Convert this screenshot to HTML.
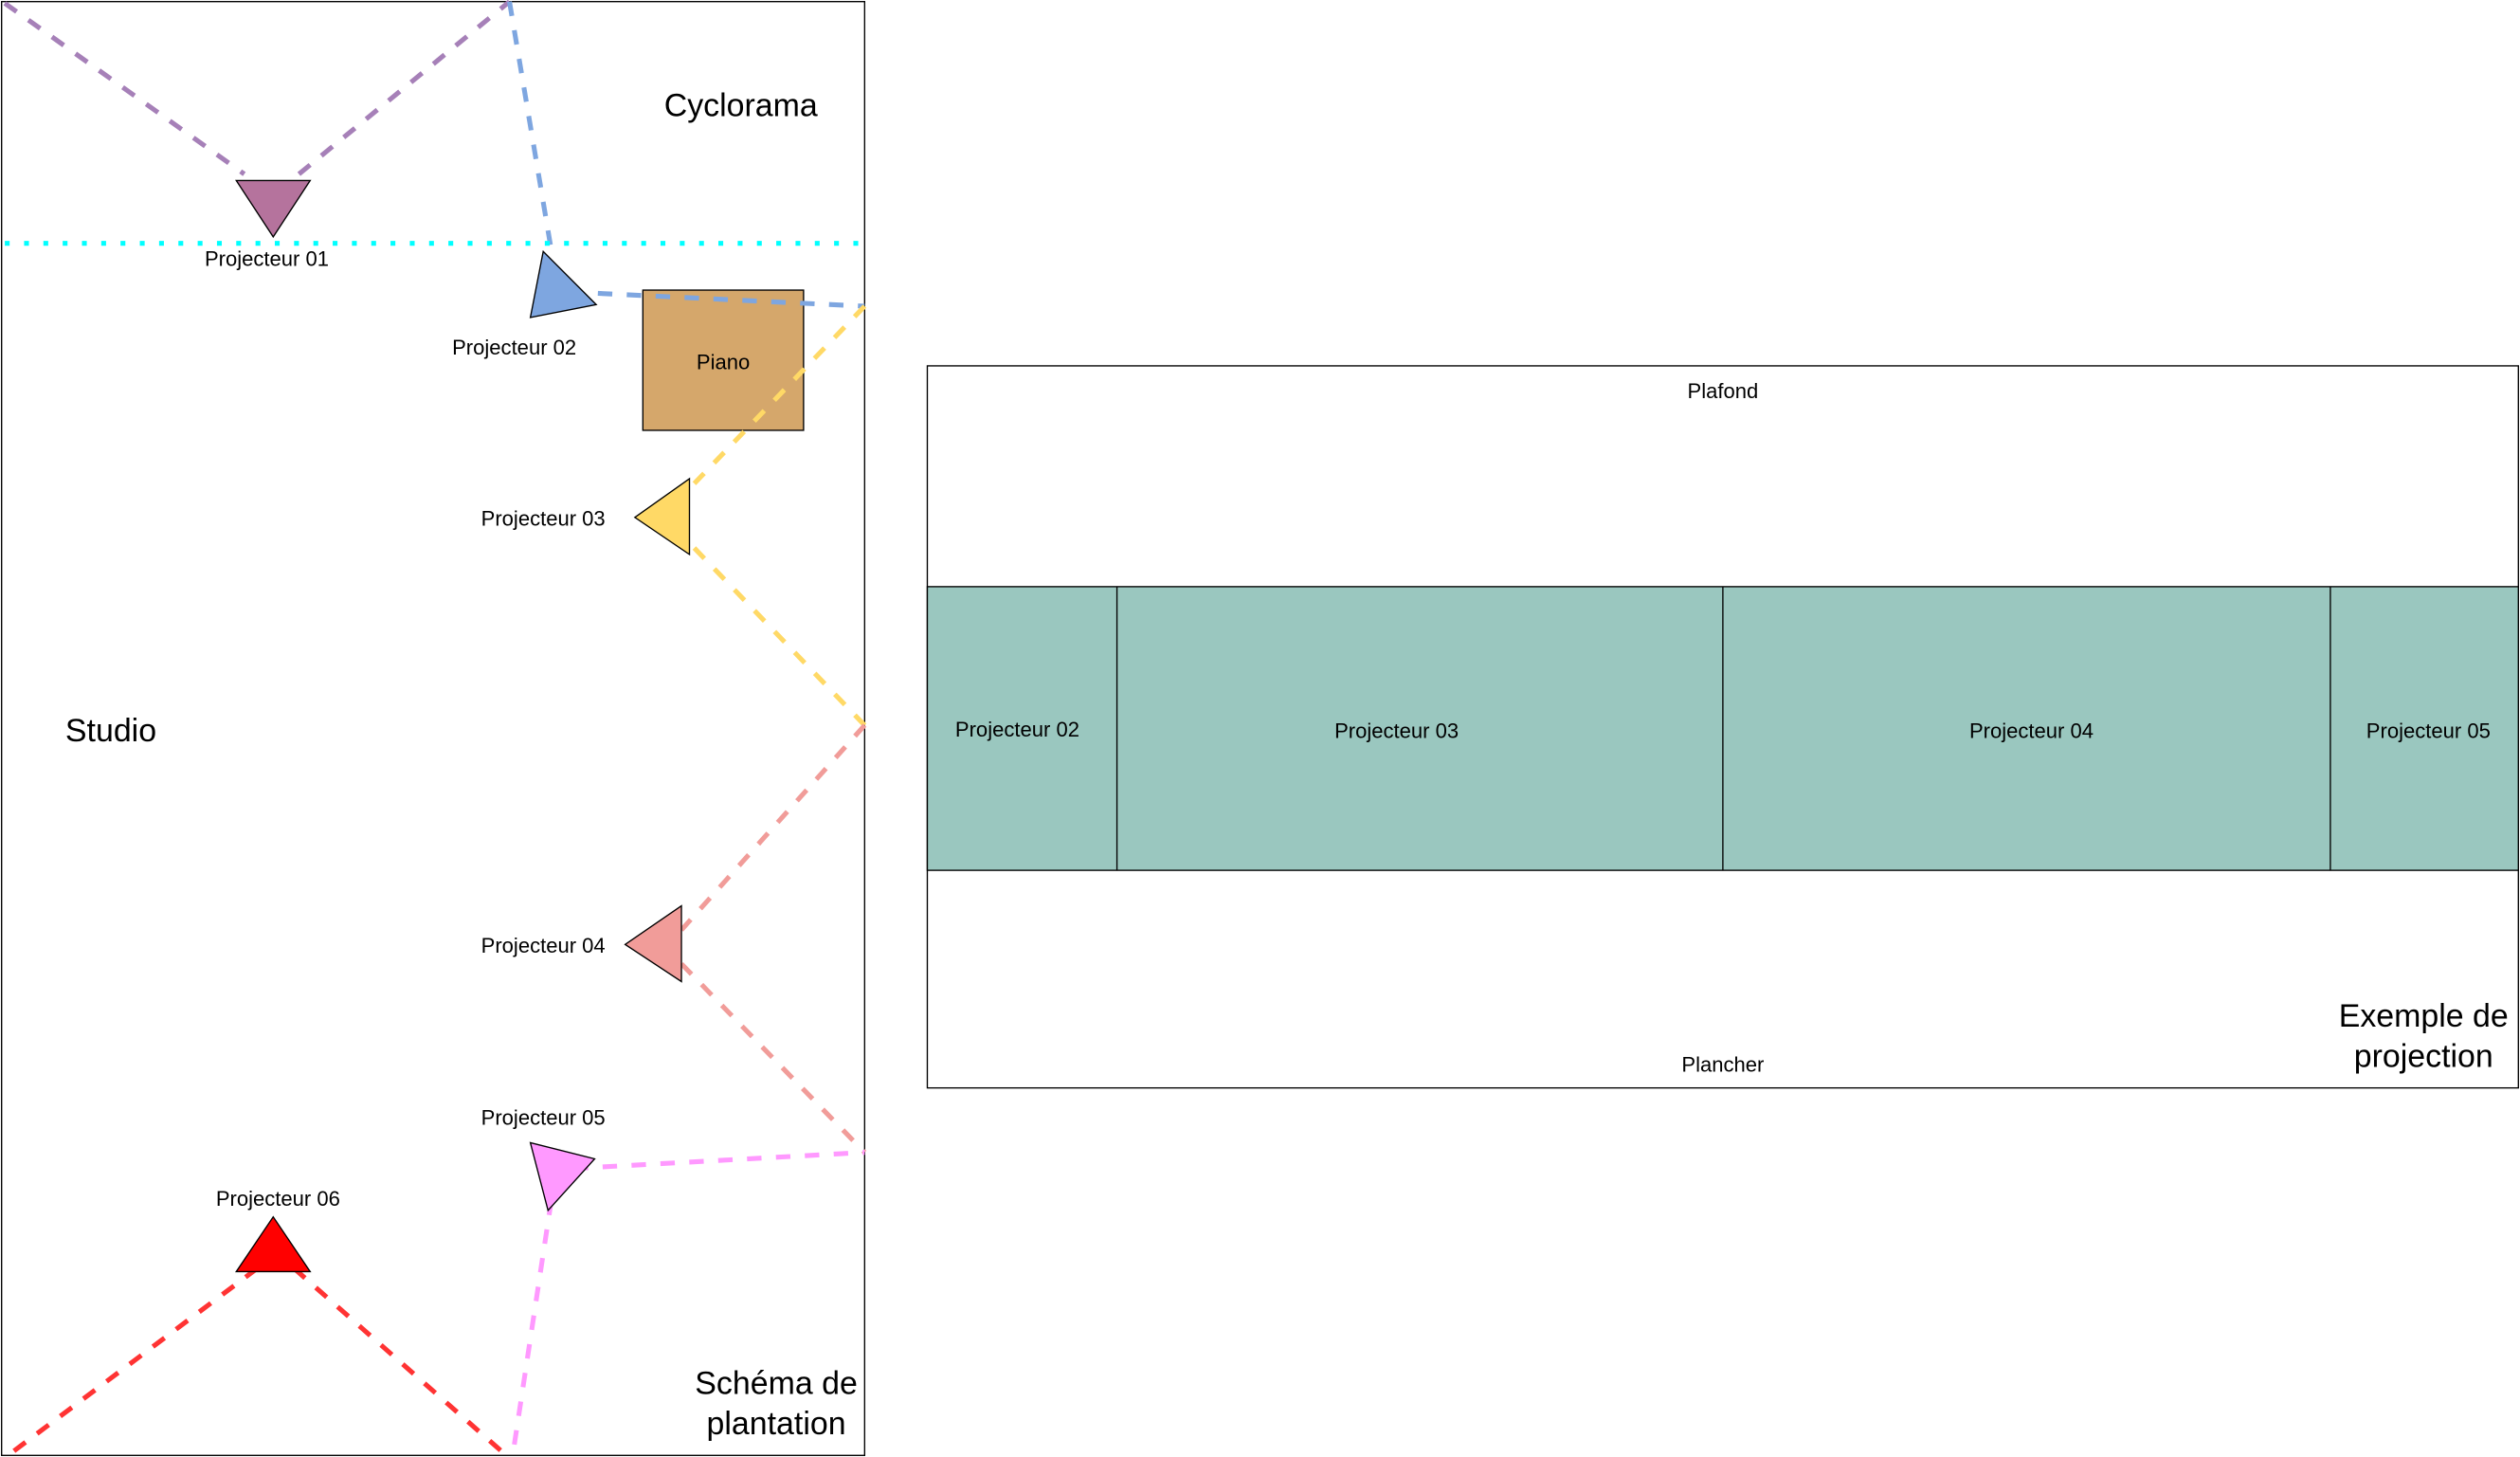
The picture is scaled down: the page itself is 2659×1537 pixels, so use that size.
<!DOCTYPE html>
<html><head><meta charset="utf-8"><style>html,body{margin:0;padding:0;background:#fff}svg{display:block}</style></head>
<body>
<svg width="2659" height="1537" viewBox="0 0 1568 904" preserveAspectRatio="none" xmlns="http://www.w3.org/2000/svg" font-family="'Liberation Sans', sans-serif">
<rect x="1" y="1" width="537" height="902" fill="#fff" stroke="#000" stroke-width="0.8"/>
<rect x="400" y="180" width="100" height="87" fill="#d5a76b" stroke="#000" stroke-width="0.8"/>
<text x="450" y="229" font-size="13" text-anchor="middle">Piano</text>
<g fill="none" stroke-width="3" stroke-dasharray="9,9">
<path d="M3,2 L152,108 M186,108 L317,1" stroke="#a680b8"/>
<path d="M317,1 L343,155 M372,182 L538,190" stroke="#7ea6e0"/>
<path d="M538,190 L432,300 M432,340 L538,450" stroke="#ffd966"/>
<path d="M538,450 L424,577 M424,598 L538,715" stroke="#f19c99"/>
<path d="M357,725 L538,715 M343,745 L319,903" stroke="#ff99ff"/>
<path d="M160,787 L5,903 M183,787 L315,903" stroke="#ff3333"/>
</g>
<line x1="3" y1="151" x2="538" y2="151" stroke="#00ffff" stroke-width="3" stroke-dasharray="3,9"/>
<g stroke="#000" stroke-width="0.8">
<polygon points="147,112 193,112 170,147" fill="#b5739d"/>
<polygon points="330,197 338,156 371,189" fill="#7ea6e0"/>
<polygon points="395,321 429,297 429,344" fill="#ffd966"/>
<polygon points="389,586 424,562 424,609" fill="#f19c99"/>
<polygon points="330,709 370,719 341,751" fill="#ff99ff"/>
<polygon points="147,789 193,789 170,755" fill="#ff0000"/>
</g>
<g font-size="13" text-anchor="middle">
<text x="166" y="165">Projecteur 01</text>
<text x="320" y="220">Projecteur 02</text>
<text x="338" y="326">Projecteur 03</text>
<text x="338" y="591">Projecteur 04</text>
<text x="338" y="698">Projecteur 05</text>
<text x="173" y="748">Projecteur 06</text>
</g>
<g font-size="20" text-anchor="middle">
<text x="461" y="72">Cyclorama</text>
<text x="69" y="460">Studio</text>
<text x="483" y="865">Schéma de</text>
<text x="483" y="890">plantation</text>
</g>
<rect x="577" y="227" width="990" height="448" fill="#fff" stroke="#000" stroke-width="0.8"/>
<rect x="577" y="364" width="990" height="176" fill="#9ac7bf" stroke="#000" stroke-width="0.8"/>
<g stroke="#000" stroke-width="0.8">
<line x1="695" y1="364" x2="695" y2="540"/>
<line x1="1072" y1="364" x2="1072" y2="540"/>
<line x1="1450" y1="364" x2="1450" y2="540"/>
</g>
<g font-size="13" text-anchor="middle">
<text x="1072" y="247">Plafond</text>
<text x="633" y="457">Projecteur 02</text>
<text x="869" y="458">Projecteur 03</text>
<text x="1264" y="458">Projecteur 04</text>
<text x="1511" y="458">Projecteur 05</text>
<text x="1072" y="665">Plancher</text>
</g>
<g font-size="20" text-anchor="middle">
<text x="1508" y="637">Exemple de</text>
<text x="1508" y="662">projection</text>
</g>
</svg>
</body></html>
